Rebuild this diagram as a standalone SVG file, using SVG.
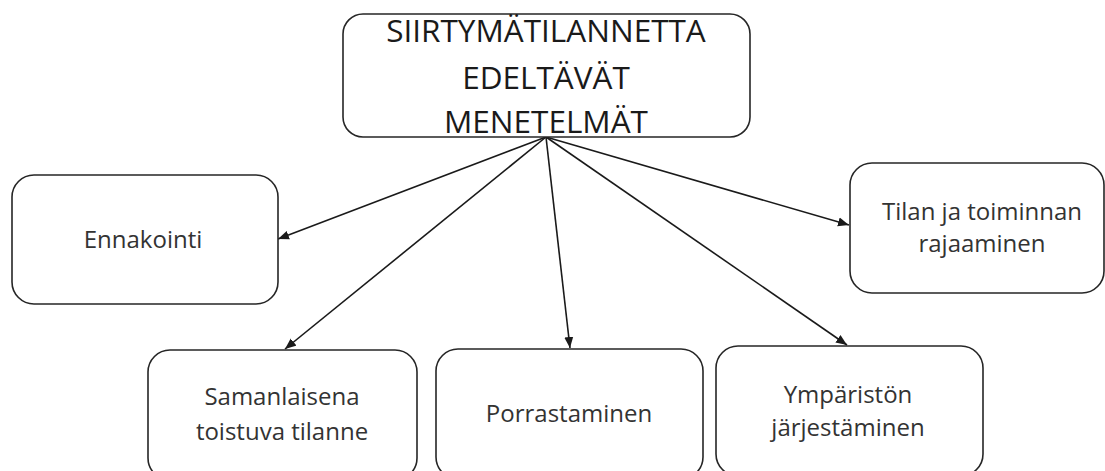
<svg xmlns="http://www.w3.org/2000/svg" width="1105" height="471" viewBox="0 0 1105 471">
  <style>
    .box { fill: #ffffff; stroke: #262626; stroke-width: 1.6; }
    .lbl { font-family: "Open Sans", "Liberation Sans", sans-serif; font-size: 24px; fill: #333333; text-anchor: middle; }
    .ttl { font-family: "Open Sans", "Liberation Sans", sans-serif; font-size: 31.5px; fill: #1a1a1a; text-anchor: middle; }
    .con { stroke: #1a1a1a; stroke-width: 1.6; fill: none; marker-end: url(#arr); }
  </style>
  <defs>
    <marker id="arr" markerUnits="userSpaceOnUse" markerWidth="12" markerHeight="10" refX="11" refY="5" orient="auto">
      <path d="M0,0.5 L11,5 L0,9.5 Z" fill="#1a1a1a"/>
    </marker>
  </defs>
  <rect width="1105" height="471" fill="#ffffff"/>
  <g id="connectors">
    <line class="con" x1="546" y1="137" x2="278" y2="239"/>
    <line class="con" x1="546" y1="137" x2="849" y2="225"/>
    <line class="con" x1="546" y1="137" x2="285" y2="349"/>
    <line class="con" x1="546" y1="137" x2="570" y2="348"/>
    <line class="con" x1="546" y1="137" x2="847" y2="345"/>
  </g>
  <g id="node-root">
    <rect class="box" x="343" y="14" width="407" height="123" rx="20"/>
    <text class="ttl" x="546" y="42">SIIRTYMÄTILANNETTA</text>
    <text class="ttl" x="546" y="89">EDELTÄVÄT</text>
    <text class="ttl" x="546" y="133">MENETELMÄT</text>
  </g>
  <g id="node-ennakointi">
    <rect class="box" x="12" y="175" width="266" height="129" rx="22"/>
    <text class="lbl" x="143" y="248">Ennakointi</text>
  </g>
  <g id="node-tilan">
    <rect class="box" x="850" y="163" width="254" height="130" rx="22"/>
    <text class="lbl" x="982" y="220">Tilan ja toiminnan</text>
    <text class="lbl" x="982" y="252">rajaaminen</text>
  </g>
  <g id="node-samanlaisena">
    <rect class="box" x="148" y="350" width="269" height="130" rx="22"/>
    <text class="lbl" x="282" y="405">Samanlaisena</text>
    <text class="lbl" x="282" y="440">toistuva tilanne</text>
  </g>
  <g id="node-porrastaminen">
    <rect class="box" x="436" y="349" width="267" height="130" rx="22"/>
    <text class="lbl" x="569" y="422">Porrastaminen</text>
  </g>
  <g id="node-ymparisto">
    <rect class="box" x="716" y="346" width="267" height="130" rx="22"/>
    <text class="lbl" x="848" y="403">Ympäristön</text>
    <text class="lbl" x="848" y="436">järjestäminen</text>
  </g>
</svg>
